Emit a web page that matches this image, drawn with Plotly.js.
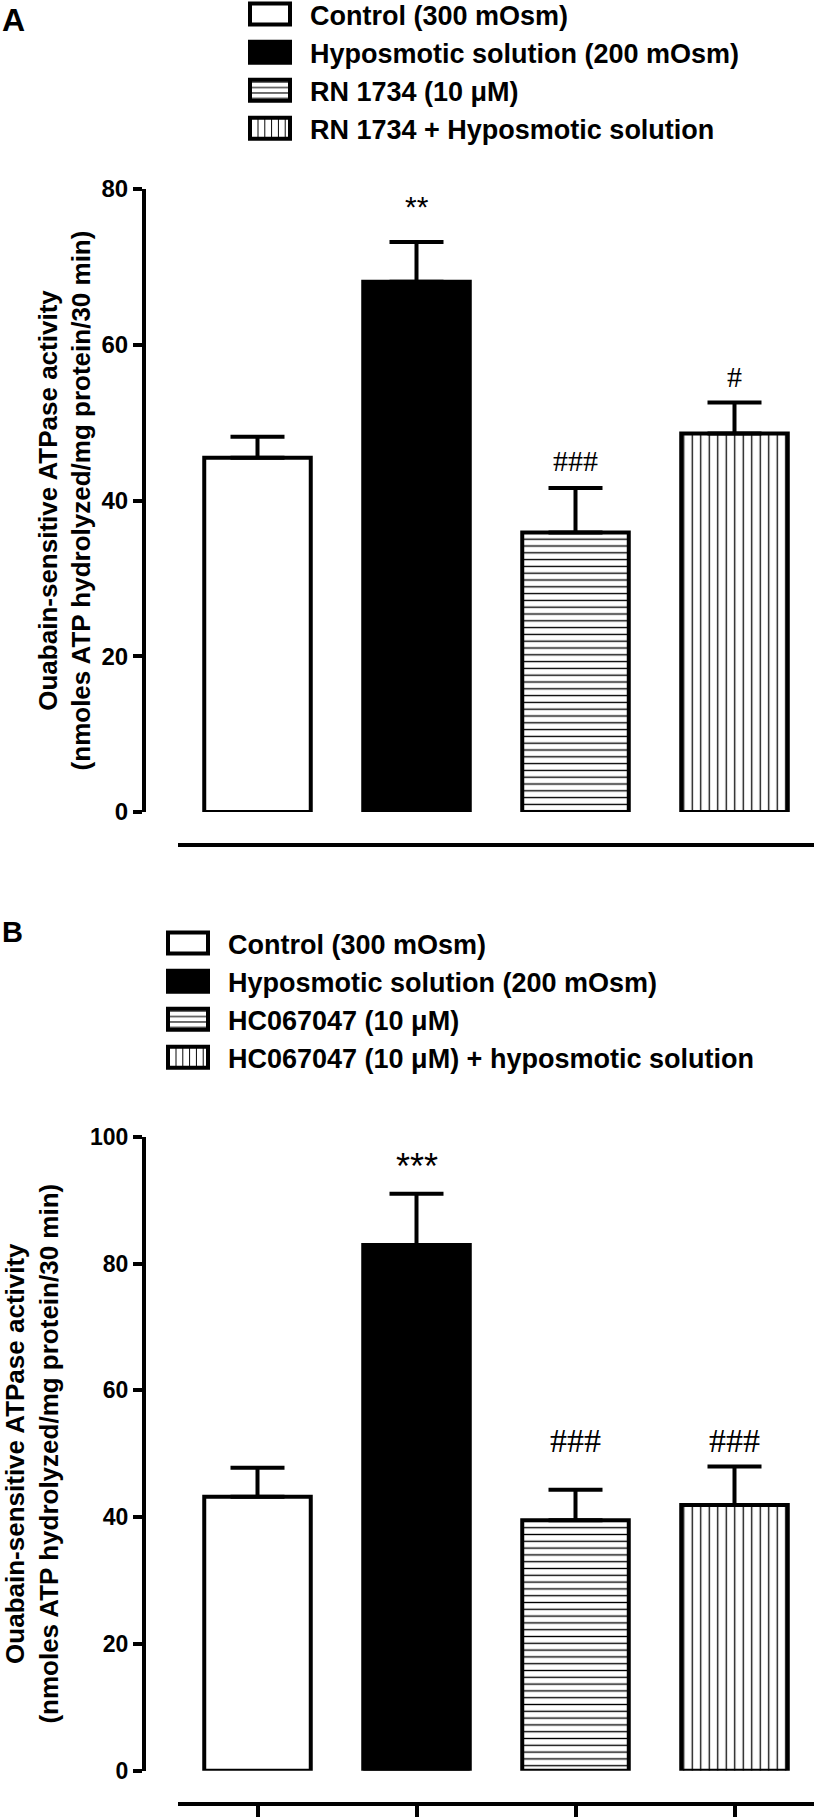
<!DOCTYPE html>
<html><head><meta charset="utf-8">
<script src="https://cdn.plot.ly/plotly-3.0.1.min.js"></script>
<style>html,body{margin:0;padding:0;background:#fff}</style>
</head><body><div id="chart" style="width:819px;height:1817px"></div>
<script>
// ---------- data ----------
const categories = ['Control', 'Hyposmotic', 'Antagonist', 'Antagonist + Hyposmotic'];
const legendA = ['Control (300 mOsm)', 'Hyposmotic solution (200 mOsm)', 'RN 1734 (10 \u03bcM)', 'RN 1734 + Hyposmotic solution'];
const legendB = ['Control (300 mOsm)', 'Hyposmotic solution (200 mOsm)', 'HC067047 (10 \u03bcM)', 'HC067047 (10 \u03bcM) + hyposmotic solution'];
const meanA = [45.5, 68.1, 35.9, 48.6];
const semA  = [2.7, 5.1, 5.7, 4.0];
const meanB = [43.2, 82.9, 39.5, 41.9];
const semB  = [4.6, 8.1, 4.8, 6.1];
const sigA = ['', '**', '###', '#'];
const sigB = ['', '***', '###', '###'];
const ticksA = [0, 20, 40, 60, 80];
const ticksB = [0, 20, 40, 60, 80, 100];
const yTitle = 'Ouabain-sensitive ATPase activity<br>(nmoles ATP hydrolyzed/mg protein/30 min)';

// ---------- styles ----------
const W = 819, H = 1817;
const FONT = 'Liberation Sans, Arial, Helvetica, sans-serif';
const fills = ['white', 'black', 'white', 'white'];
const patterns = [
  {shape: ''},
  {shape: ''},
  {shape: '-', fgcolor: 'black', bgcolor: 'white', size: 6.8, solidity: 0.2},
  {shape: '|', fgcolor: 'black', bgcolor: 'white', size: 8.5, solidity: 0.15}
];
const sigShiftA = [0, 35, 28, 26];
const sigShiftB = [0, 27, 49, 26];
const sigFont = ['', 'Liberation Sans', 'Liberation Serif', 'Liberation Serif'];

function panelTraces(means, sems, names, xa, ya, leg) {
  return means.map((m, i) => ({
    type: 'bar',
    x: [categories[i]],
    y: [m],
    name: names[i],
    xaxis: xa, yaxis: ya, legend: leg,
    legendgroup: leg + i,
    width: 0.67,
    cliponaxis: false,
    marker: {color: fills[i], line: {color: 'black', width: 4}, pattern: patterns[i]},
    error_y: {type: 'data', array: [sems[i]], arrayminus: [0], symmetric: false,
              color: 'black', thickness: 4, width: 27},
    hoverinfo: 'skip'
  }));
}

const data = [].concat(
  panelTraces(meanA, semA, legendA, 'x', 'y', 'legend'),
  panelTraces(meanB, semB, legendB, 'x2', 'y2', 'legend2')
);

function sigAnn(sigs, means, sems, shifts, xr, yr, sz) {
  const out = [];
  sigs.forEach((s, i) => {
    if (!s) return;
    out.push({text: s, x: categories[i], y: means[i] + sems[i], xref: xr, yref: yr,
      yanchor: 'middle', yshift: shifts[i], showarrow: false,
      font: {family: sigFont[i === 1 ? 1 : 2], size: sz[i], color: 'black'}});
  });
  return out;
}

const axisCommon = {
  showline: true, linewidth: 4, linecolor: 'black', showgrid: false, zeroline: false, fixedrange: true
};

const legendFont = {family: FONT, size: 27, weight: 700, color: 'black'};

const layout = {
  width: W, height: H,
  margin: {l: 0, r: 0, t: 0, b: 0},
  paper_bgcolor: 'white', plot_bgcolor: 'rgba(0,0,0,0)',
  barmode: 'overlay',
  showlegend: true,
  font: {family: FONT, color: 'black'},
  xaxis: Object.assign({}, axisCommon, {
    domain: [178 / W, 814 / W], range: [-0.5, 3.5], type: 'category',
    anchor: 'free', position: 1 - 845 / H, ticks: '', showticklabels: false
  }),
  yaxis: Object.assign({}, axisCommon, {
    domain: [1 - 812 / H, 1 - 189 / H], range: [0, 80], anchor: 'free', position: 144 / W,
    ticks: 'outside', ticklen: 9, tickwidth: 4, tickcolor: 'black', tickvals: ticksA,
    tickfont: {family: FONT, size: 24, weight: 700},
    title: {text: yTitle, font: {family: FONT, size: 26, weight: 700}, standoff: 2}
  }),
  xaxis2: Object.assign({}, axisCommon, {
    domain: [178 / W, 814 / W], range: [-0.5, 3.5], type: 'category',
    anchor: 'free', position: 1 - 1804 / H, ticks: 'outside', ticklen: 14, tickwidth: 4,
    tickcolor: 'black', showticklabels: false
  }),
  yaxis2: Object.assign({}, axisCommon, {
    domain: [1 - 1770.7 / H, 1 - 1136.7 / H], range: [0, 100], anchor: 'free', position: 144 / W,
    ticks: 'outside', ticklen: 9, tickwidth: 4, tickcolor: 'black', tickvals: ticksB,
    tickfont: {family: FONT, size: 23, weight: 700},
    title: {text: yTitle, font: {family: FONT, size: 26, weight: 700}, standoff: 28}
  }),
  legend: {x: 240 / W, y: 1, xanchor: 'left', yanchor: 'top', bgcolor: 'rgba(0,0,0,0)',
    font: legendFont, itemwidth: 60, tracegroupgap: 0, traceorder: 'normal'},
  legend2: {x: 158 / W, y: 1 - 919 / H, xanchor: 'left', yanchor: 'top', bgcolor: 'rgba(0,0,0,0)',
    font: legendFont, itemwidth: 60, tracegroupgap: 1, traceorder: 'normal'},
  annotations: [
    {text: 'A', xref: 'paper', yref: 'paper', x: 0, y: 1 - 20 / H, xanchor: 'left', yanchor: 'middle',
     showarrow: false, font: {family: FONT, size: 32, weight: 700}},
    {text: 'B', xref: 'paper', yref: 'paper', x: 0, y: 1 - 932 / H, xanchor: 'left', yanchor: 'middle',
     showarrow: false, font: {family: FONT, size: 29, weight: 700}}
  ].concat(
    sigAnn(sigA, meanA, semA, sigShiftA, 'x', 'y', [0, 30, 30, 30]),
    sigAnn(sigB, meanB, semB, sigShiftB, 'x2', 'y2', [0, 36, 34, 34])
  )
};

// Post-render styling: larger legend swatches, top legend nudged up toward the page edge
function enlargeSwatches() {
  gd.querySelectorAll('g.legendpoints path').forEach(p => {
    p.setAttribute('d', 'M15,10.5H-25V-10.5H15Z');
    p.style.strokeWidth = '4px';
  });
  const lg = gd.querySelector('g.infolayer > g.legend');
  if (lg) {
    const t = lg.getAttribute('transform') || '';
    if (lg.dataset.orig !== t && lg.dataset.shifted !== t) lg.dataset.orig = t;
    const m = /translate\(\s*([-\d.e]+)[ ,]\s*([-\d.e]+)\s*\)/.exec(lg.dataset.orig || '');
    if (m) {
      const nt = 'translate(' + m[1] + ',' + (parseFloat(m[2]) - 10) + ')';
      lg.setAttribute('transform', nt);
      lg.dataset.shifted = nt;
    }
  }
}

const gd = document.getElementById('chart');
Plotly.newPlot(gd, data, layout, {staticPlot: true, displayModeBar: false}).then(() => {
  enlargeSwatches();
  gd.on('plotly_afterplot', enlargeSwatches);
  setTimeout(enlargeSwatches, 50);
  setTimeout(enlargeSwatches, 300);
});
</script>
</body></html>
